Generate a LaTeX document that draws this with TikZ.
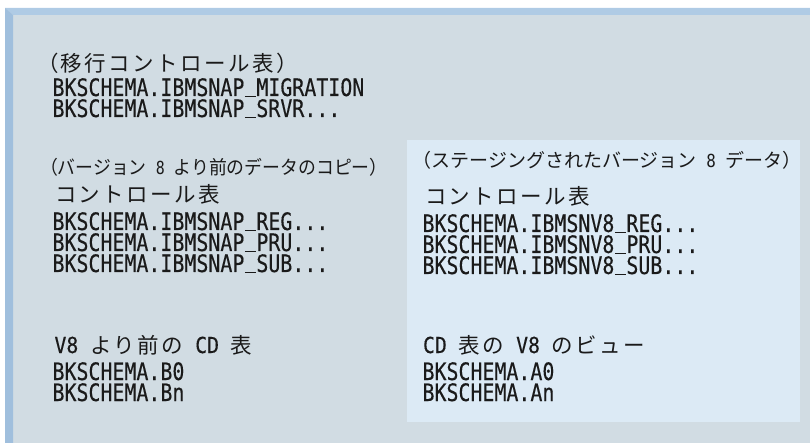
\documentclass[tikz,border=0pt]{standalone}
\usepackage{fontspec}
\usepackage{graphicx}
\newfontfamily\jpfam{Noto Sans CJK JP}
\newfontfamily\jpwide[LetterSpace=11.6]{Noto Sans CJK JP}
\newfontfamily\monomain[FakeStretch=0.83,FakeBold=0.3]{DejaVu Sans Mono}
\newfontfamily\monohead[FakeStretch=0.90,FakeBold=0.25]{DejaVu Sans Mono}
\newfontfamily\monosmall[FakeStretch=0.88]{DejaVu Sans Mono}
\newcommand\jpbig[1]{{\jpwide\fontsize{21.5}{21.5}\selectfont #1}}
\newcommand\jpsm[1]{{\jpfam\fontsize{19}{19}\selectfont #1}}
\newcommand\latsm[1]{{\monosmall\fontsize{18}{18}\selectfont #1}}
\newcommand\lathd[1]{{\monohead\fontsize{22}{22}\selectfont #1}}
\newcommand\latmain{\monomain\fontsize{24}{21}\selectfont}
\newcommand\usc{\rlap{\kern0.6pt\rule[-1.2pt]{10.8pt}{1.5pt}}\hphantom{M}}
\definecolor{mainbg}{HTML}{D1DCE3}
\definecolor{topband}{HTML}{AFCBE5}
\definecolor{leftband}{HTML}{A0BFDD}
\definecolor{innerbg}{HTML}{DCEAF5}
\definecolor{ink}{HTML}{1A1A1A}
\begin{document}
\begin{tikzpicture}[x=1pt,y=-1pt,
  txt/.style={anchor=base west, inner sep=0pt, outer sep=0pt, text=ink},
  block/.style={txt, align=left, font=\latmain}]
\useasboundingbox (0,0) rectangle (810,443);
% background panels
\fill[mainbg] (5,8) rectangle (810,443);
\fill[topband] (5,8) -- (810,8) -- (810,15) -- (13,15) -- cycle;
\fill[leftband] (5,8) -- (13,15) -- (13,443) -- (5,443) -- cycle;
\fill[innerbg] (407,140) rectangle (800,422);
% migration control tables (base anchor = baseline of last line)
\node[txt] (t1) at (37,72) {\jpbig{（移行コントロール表）}};
\node[block] (t2) at (52.5,117) {BKSCHEMA.IBMSNAP\usc MIGRATION\\BKSCHEMA.IBMSNAP\usc SRVR...};
% left column
\node[txt] (l1) at (40,174.5) {\scalebox{0.94}[1]{\jpsm{（バージョン}\latsm{~8~}\jpsm{より前のデータのコピー）}}};
\node[txt] (l2) at (55,202.5) {\jpbig{コントロール表}};
\node[block] (l3) at (52.5,272) {BKSCHEMA.IBMSNAP\usc REG...\\BKSCHEMA.IBMSNAP\usc PRU...\\BKSCHEMA.IBMSNAP\usc SUB...};
\node[txt] (l6) at (54.5,353) {\lathd{V8~}\jpbig{より前の}\lathd{~CD~}\jpbig{表}};
\node[block] (l7) at (52.5,401) {BKSCHEMA.B0\\BKSCHEMA.Bn};
% right column
\node[txt] (r1) at (412.5,167.5) {\jpsm{（ステージングされたバージョン}\latsm{~8~}\jpsm{データ）}};
\node[txt] (r2) at (425,205) {\jpbig{コントロール表}};
\node[block] (r3) at (422.5,274) {BKSCHEMA.IBMSNV8\usc REG...\\BKSCHEMA.IBMSNV8\usc PRU...\\BKSCHEMA.IBMSNV8\usc SUB...};
\node[txt] (r6) at (423,353) {\lathd{CD~}\jpbig{表の}\lathd{~V8~}\jpbig{のビュー}};
\node[block] (r7) at (422.5,401) {BKSCHEMA.A0\\BKSCHEMA.An};
\end{tikzpicture}
\end{document}
